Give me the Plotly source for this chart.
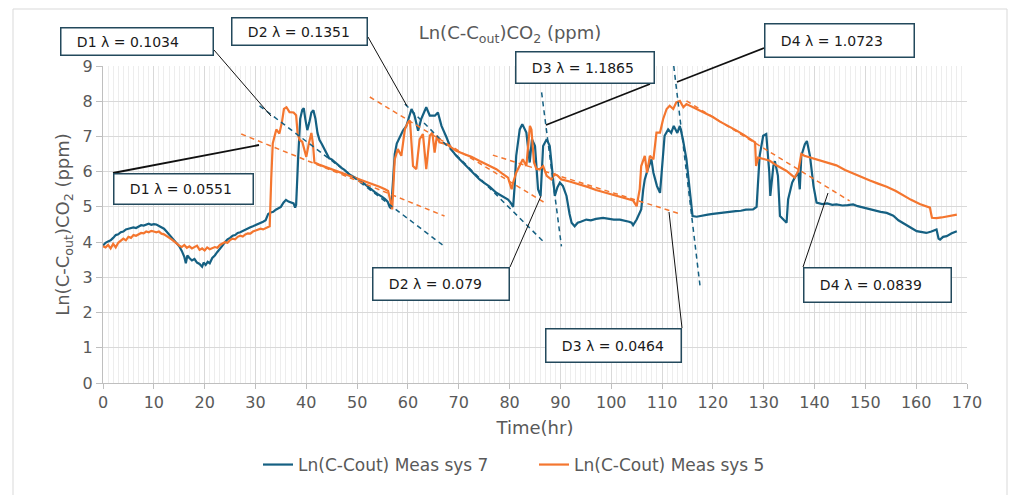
import plotly.graph_objects as go

# ---------------- data ----------------
t_sys7 = [0.0,0.5,1.0,1.5,2.0,2.5,3.0,3.5,4.0,4.5,5.0,5.5,6.0,6.5,7.0,7.5,8.0,8.5,9.0,9.5,10.0,10.5,11.0,11.5,12.0,12.5,13.0,13.5,14.0,14.5,15.0,15.5,16.0,16.3,16.6,17.0,17.5,18.0,18.5,19.0,19.5,19.8,20.2,20.6,21.0,21.5,22.0,22.5,23.0,23.5,24.0,24.5,25.0,25.5,26.0,26.5,27.0,27.5,28.0,28.5,29.0,29.5,30.0,30.5,31.0,31.5,32.0,32.5,33.0,33.5,34.0,34.5,35.0,35.5,36.0,36.5,37.0,37.5,37.8,38.0,38.4,38.8,39.2,39.5,39.8,40.2,40.6,41.0,41.4,41.8,42.2,42.6,43.0,43.5,44.0,44.5,45.0,45.5,46.0,46.5,47.0,47.5,48.0,48.5,49.0,49.5,50.0,50.5,51.0,51.5,52.0,52.5,53.0,53.5,54.0,54.5,55.0,55.5,56.0,56.4,56.7,57.0,57.4,57.8,58.4,59.0,59.7,60.2,60.7,61.3,62.0,62.6,63.2,63.6,64.3,65.3,65.9,66.6,67.6,68.5,69.5,70.8,72.0,73.0,74.1,75.0,76.0,77.4,78.5,79.7,80.2,80.7,81.0,81.3,82.0,82.5,83.3,83.96,84.4,85.0,85.6,86.1,86.6,87.3,87.9,88.5,88.9,89.4,89.9,90.5,91.2,91.8,92.2,92.8,93.4,94.0,95.1,96.0,97.0,98.4,99.5,100.5,101.7,102.5,103.5,104.0,104.3,105.0,105.5,105.9,106.3,106.6,107.2,107.9,108.3,109.0,109.6,110.1,110.5,111.2,111.8,112.3,113.0,113.5,114.1,114.8,115.5,116.0,116.8,118.0,119.0,120.0,121.4,122.5,123.5,124.5,125.5,126.5,127.9,128.6,129.2,129.9,130.5,131.1,131.3,131.9,132.2,132.8,133.2,133.8,134.5,134.8,135.6,136.1,136.8,137.1,137.4,138.1,138.5,139.1,139.8,140.4,141.5,142.5,143.5,144.3,145.5,146.5,147.6,148.5,149.5,150.9,152.0,153.0,154.2,155.5,156.5,157.4,158.5,159.3,160.1,161.0,162.0,163.0,164.0,164.4,164.7,165.3,166.0,167.0,168.0]
v_sys7 = [3.90,3.98,4.02,4.05,4.12,4.20,4.22,4.28,4.30,4.36,4.38,4.40,4.42,4.40,4.45,4.48,4.47,4.50,4.52,4.49,4.51,4.50,4.46,4.42,4.38,4.30,4.22,4.15,4.06,3.98,3.88,3.75,3.58,3.40,3.62,3.55,3.48,3.52,3.42,3.38,3.30,3.42,3.35,3.44,3.40,3.55,3.62,3.72,3.80,3.90,4.00,4.08,4.12,4.18,4.20,4.26,4.28,4.32,4.34,4.38,4.42,4.45,4.48,4.50,4.55,4.58,4.62,4.80,4.84,4.86,4.92,4.95,5.00,5.12,5.20,5.15,5.12,5.10,4.98,5.05,6.40,7.50,7.75,7.80,7.50,7.18,7.40,7.68,7.74,7.50,7.10,6.90,6.80,6.65,6.50,6.38,6.35,6.28,6.22,6.15,6.10,6.05,5.98,5.92,5.88,5.85,5.80,5.76,5.70,5.66,5.60,5.54,5.48,5.42,5.37,5.33,5.28,5.22,5.15,5.00,4.95,5.60,6.50,6.80,6.97,7.16,7.30,7.55,7.78,7.59,7.16,7.49,7.70,7.83,7.59,7.59,7.68,7.30,6.97,6.64,6.45,6.26,6.08,5.93,5.78,5.68,5.58,5.40,5.30,5.21,5.12,5.00,5.60,6.45,7.20,7.35,7.11,6.26,6.92,6.73,5.50,5.31,6.73,6.92,6.73,5.88,5.31,5.55,5.69,5.59,5.31,4.80,4.55,4.45,4.55,4.58,4.64,4.62,4.66,4.69,4.67,4.64,4.64,4.62,4.58,4.55,4.48,4.64,4.80,4.93,5.50,5.78,6.07,6.35,5.97,5.59,5.40,6.35,7.02,7.20,7.10,7.30,7.10,7.30,6.92,6.35,5.40,4.74,4.72,4.76,4.78,4.80,4.83,4.85,4.86,4.88,4.89,4.92,4.93,5.00,6.45,7.02,7.07,5.97,5.31,6.16,6.30,5.88,4.74,4.64,4.55,5.21,5.69,5.83,5.97,5.50,6.45,6.78,6.87,6.45,5.59,5.12,5.08,5.10,5.06,5.07,5.04,5.05,5.07,5.02,4.98,4.93,4.90,4.86,4.83,4.75,4.62,4.55,4.45,4.38,4.31,4.28,4.26,4.30,4.36,4.10,4.07,4.15,4.17,4.25,4.31]

t_sys5 = [0.0,0.5,1.0,1.5,2.0,2.5,3.0,3.5,4.0,4.5,5.0,5.5,6.0,6.5,7.0,7.5,8.0,8.5,9.0,9.5,10.0,10.5,11.0,11.5,12.0,12.5,13.0,13.5,14.0,14.5,15.0,15.5,16.0,16.5,17.0,17.5,18.0,18.5,19.0,19.5,20.0,20.5,21.0,21.5,22.0,22.5,23.0,23.5,24.0,24.5,25.0,25.5,26.0,26.5,27.0,27.5,28.0,28.5,29.0,29.5,30.0,30.5,31.0,31.5,32.0,32.5,32.8,33.1,33.4,34.1,34.7,35.2,35.6,36.1,36.7,37.5,38.0,38.3,38.7,39.2,39.7,40.0,40.5,41.0,41.3,41.6,42.5,44.0,45.5,47.0,48.5,50.0,51.5,53.0,54.4,55.5,56.1,56.5,56.9,57.4,58.0,58.7,59.4,60.0,60.4,61.0,61.65,62.3,62.95,63.6,64.3,64.8,65.25,65.7,66.2,67.6,69.5,71.0,72.5,74.1,75.5,77.4,78.5,79.7,80.4,80.7,81.3,82.0,82.6,83.3,84.0,84.3,84.8,85.3,85.9,86.6,87.3,88.2,88.9,89.5,90.2,91.8,93.8,95.5,97.0,98.5,100.0,101.5,103.0,104.3,105.0,105.6,105.9,106.6,107.05,107.6,108.3,108.9,109.6,110.2,110.9,111.5,112.2,112.8,113.5,114.2,114.8,115.5,117.0,118.5,120.0,121.4,123.0,124.5,126.0,127.0,128.0,128.3,128.5,128.9,130.0,131.2,132.5,133.5,134.5,135.5,136.1,136.8,137.4,138.0,139.1,140.0,141.1,142.5,144.3,146.0,147.6,149.0,150.9,152.5,154.2,156.0,157.4,159.0,160.7,162.0,162.7,163.1,164.0,165.0,166.0,167.0,168.0]
v_sys5 = [3.88,3.85,3.92,3.82,3.95,3.85,3.98,4.05,4.10,4.05,4.15,4.12,4.20,4.18,4.22,4.26,4.25,4.30,4.28,4.32,4.30,4.28,4.30,4.24,4.22,4.18,4.12,4.08,4.02,3.95,3.90,3.86,3.92,3.84,3.88,3.82,3.86,3.90,3.78,3.82,3.76,3.85,3.80,3.82,3.86,3.84,3.92,3.96,4.00,3.98,4.06,4.10,4.08,4.15,4.18,4.16,4.22,4.25,4.24,4.30,4.32,4.35,4.38,4.36,4.40,4.42,4.45,5.80,6.80,7.20,7.08,7.40,7.78,7.83,7.69,7.68,7.60,7.07,6.90,6.85,6.60,6.42,6.80,7.10,6.80,6.26,6.20,6.12,6.05,5.98,5.90,5.82,5.74,5.66,5.57,5.50,5.45,5.20,4.93,6.35,6.64,6.45,7.20,7.40,7.45,6.16,6.07,6.92,7.07,6.07,7.02,7.11,6.54,7.02,6.83,6.78,6.59,6.50,6.42,6.30,6.20,6.07,5.95,5.83,5.50,5.69,5.97,6.16,6.35,6.16,7.30,7.20,6.26,6.07,6.07,6.16,5.88,5.78,5.93,5.88,5.78,5.72,5.64,5.56,5.48,5.42,5.35,5.30,5.24,5.18,5.02,5.50,6.16,6.45,5.97,6.45,6.35,7.11,7.11,7.49,7.78,7.87,7.78,7.97,8.01,7.83,7.92,7.87,7.75,7.65,7.55,7.42,7.30,7.18,7.05,6.95,6.85,6.83,6.16,6.40,6.36,6.31,6.18,6.10,6.02,5.90,5.83,6.02,6.50,6.45,6.40,6.38,6.32,6.26,6.18,6.05,5.95,5.85,5.75,5.66,5.57,5.45,5.33,5.20,5.08,5.02,4.98,4.69,4.68,4.70,4.72,4.74,4.78]

# decay fits (dashed trend segments)
fit_series = ["sys7", "sys5", "sys7", "sys5", "sys7", "sys5", "sys7", "sys5"]
fit_x_start = [30.8, 27.2, 59.4, 52.5, 86.3, 76.7, 112.3, 114.8]
fit_x_end   = [66.8, 67.2, 86.9, 86.9, 90.2, 113.8, 117.5, 146.9]
fit_y_start = [7.87, 7.07, 7.92, 8.12, 8.25, 6.47, 9.00, 8.01]
fit_y_end   = [3.92, 4.74, 3.98, 5.12, 3.88, 4.79, 2.72, 5.17]

fit_labels = ["D1 λ = 0.1034", "D2 λ = 0.1351", "D1 λ = 0.0551", "D3 λ = 1.1865",
              "D4 λ = 1.0723", "D2 λ = 0.079", "D3 λ = 0.0464", "D4 λ = 0.0839"]

x_ticks = list(range(0, 171, 10))
y_ticks = list(range(0, 10))

# ---------------- style ----------------
BLUE = "#156082"
ORANGE = "#F4762F"
GREY = "#595959"
FONT = "DejaVu Sans"

W, H = 1010, 495
L, R, T, B = 103, 967, 66, 383


def px(x):
    return (x - L) / (R - L)


def py(y):
    return (B - y) / (B - T)


fig = go.Figure()
fig.add_trace(go.Scatter(x=t_sys7, y=v_sys7, mode="lines", name="Ln(C-Cout) Meas sys 7",
                         line=dict(color=BLUE, width=2.2)))
fig.add_trace(go.Scatter(x=t_sys5, y=v_sys5, mode="lines", name="Ln(C-Cout) Meas sys 5",
                         line=dict(color=ORANGE, width=2.2)))

for s, x0, x1, y0, y1 in zip(fit_series, fit_x_start, fit_x_end, fit_y_start, fit_y_end):
    fig.add_trace(go.Scatter(x=[x0, x1], y=[y0, y1], mode="lines", showlegend=False,
                             hoverinfo="skip",
                             line=dict(color=BLUE if s == "sys7" else ORANGE, width=1.5,
                                       dash="5px,4px")))

# annotation boxes: (left, top, right, bottom) in pixels
boxes = [
    (60, 27, 214, 56),
    (231, 17, 368, 46),
    (113, 173, 254, 205),
    (515, 51, 655, 84),
    (764, 23, 915, 58),
    (372, 267, 510, 301),
    (545, 328, 682, 363),
    (803, 267, 952, 303),
]
leaders = [
    ((214, 50), (271, 116), 1.0),
    ((368, 37), (407, 106), 1.0),
    ((113, 173), (259, 145), 1.8),
    ((650, 84), (546, 125), 1.8),
    ((764, 48), (677, 82), 1.8),
    ((510, 267), (541, 196), 1.0),
    ((682, 328), (669, 212), 1.0),
    ((803, 267), (828, 193), 1.0),
]

shapes = []
# outer chart border
shapes.append(dict(type="rect", xref="paper", yref="paper", x0=px(13), x1=px(1007),
                   y0=py(520), y1=py(9), line=dict(color="#d9d9d9", width=1),
                   fillcolor="rgba(0,0,0,0)", layer="below"))
for (a, b), (c, d), w in leaders:
    shapes.append(dict(type="line", xref="paper", yref="paper", x0=px(a), y0=py(b),
                       x1=px(c), y1=py(d), line=dict(color="#111111", width=w)))

BW, PAD = 1.5, 2
annotations = []
for lab, (l, t, r, b) in zip(fit_labels, boxes):
    annotations.append(dict(text="\u00a0\u00a0\u00a0" + lab, xref="paper", yref="paper",
                            x=px(l), y=py(t), xanchor="left", yanchor="top",
                            width=(r - l) - 2 * (BW + PAD), height=(b - t) - 2 * (BW + PAD),
                            align="left", valign="middle", showarrow=False,
                            bordercolor="#23495c", borderwidth=BW, borderpad=PAD,
                            bgcolor="white",
                            font=dict(family=FONT, size=14, color="#1a1a1a")))

fig.update_layout(
    width=W, height=H,
    margin=dict(l=L, r=W - R, t=T, b=H - B),
    paper_bgcolor="white", plot_bgcolor="white",
    font=dict(family=FONT, size=16, color=GREY),
    title=dict(text="Ln(C-C<sub>out</sub>)CO<sub>2</sub> (ppm)", xref="paper", yref="container",
               x=px(510), xanchor="center", y=1 - 33 / H, yanchor="middle",
               font=dict(family=FONT, size=18, color=GREY)),
    xaxis=dict(range=[0, 170], tickvals=x_ticks, showgrid=True, gridcolor="#d9d9d9",
               gridwidth=1, zeroline=False, showline=True, linecolor="#bfbfbf",
               ticks="outside", ticklen=5, tickcolor="#bfbfbf",
               minor=dict(dtick=1, showgrid=True, gridcolor="#ededed", gridwidth=1),
               title=dict(text="Time(hr)", standoff=10, font=dict(size=18, color=GREY)),
               tickfont=dict(size=16, color=GREY)),
    yaxis=dict(range=[0, 9], tickvals=y_ticks, showgrid=True, gridcolor="#d9d9d9",
               gridwidth=1, zeroline=False, showline=True, linecolor="#bfbfbf",
               ticks="outside", ticklen=6, tickcolor="#bfbfbf",
               title=dict(text="Ln(C-C<sub>out</sub>)CO<sub>2</sub> (ppm)", standoff=8,
                          font=dict(size=18, color=GREY)),
               tickfont=dict(size=16, color=GREY)),
    legend=dict(orientation="h", x=px(534), xanchor="center", y=py(465), yanchor="middle",
                entrywidth=231, entrywidthmode="pixels",
                font=dict(size=17, color=GREY), bgcolor="rgba(0,0,0,0)"),
    shapes=shapes,
    annotations=annotations,
)

fig.write_html("out.html")
